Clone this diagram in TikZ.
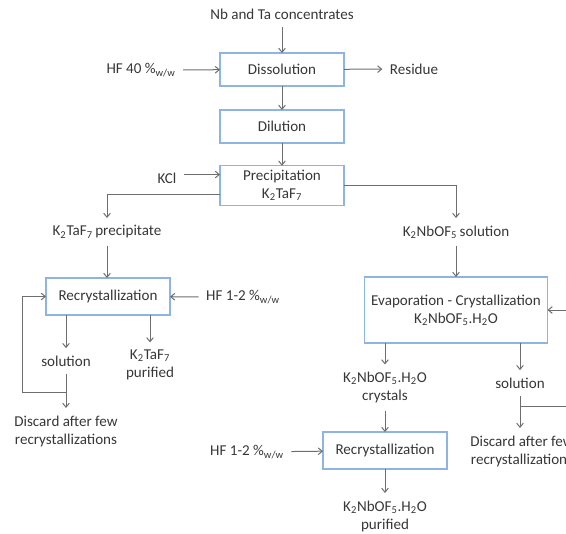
\documentclass[tikz,border=0pt]{standalone}
\usepackage{fontspec}
\setmainfont{Carlito}
\usepackage{xcolor}
\usepackage{tikz}
\usetikzlibrary{shapes.geometric, arrows.meta, positioning}
\definecolor{boxblue}{RGB}{141,180,227}
\definecolor{linegray}{RGB}{110,110,110}
\definecolor{textgray}{RGB}{55,55,55}
\tikzstyle{arrow} = [draw=linegray, line width=0.75pt, -{Straight Barb[length=3pt,width=5pt]}]
\newcommand{\ktaf}{K\textsubscript{2}TaF\textsubscript{7}}
\newcommand{\knbo}{K\textsubscript{2}NbOF\textsubscript{5}}
\newcommand{\ww}{\textsubscript{w/w}}

\begin{document}
\begin{tikzpicture}[x=0.75pt, y=-0.75pt, font=\fontsize{11.3}{13.5}\selectfont, text=textgray]
    \tikzstyle{unit}=[draw=boxblue, line width=1pt, rectangle, minimum width=93pt, minimum height=24.75pt, align=center, outer sep=0pt, fill=white]
    \tikzstyle{tall}=[unit, minimum height=27.75pt]
    \tikzstyle{stream}=[align=center, inner sep=5.5pt]

    \useasboundingbox (0,0) rectangle (566,533);
    \clip (0,0) rectangle (566,533);

    % main line
    \node[stream] (conc) at (282,14) {Nb and Ta concentrates};
    \node[unit] (dissol) at (282,69.5) {Dissolution};
    \node[stream] (hf40) at (141,70) {HF 40 \%\ww};
    \node[stream] (residue) at (414,69) {Residue};
    \node[unit] (dilut) at (282,126.5) {Dilution};
    \node[tall] (precip) at (282,185.5) {Precipitation\\\ktaf};
    \node[stream] (kcl) at (167,178) {KCl};

    % tantalum branch
    \node[stream] (taprec) at (107,232) {\ktaf\,precipitate};
    \node[tall] (recl) at (108,296.5) {Recrystallization};
    \node[stream] (hfa) at (243,297) {HF 1-2 \%\ww};
    \node[stream] (soll) at (66,361) {solution};
    \node[stream] (tapur) at (150,365) {\ktaf\\purified};
    \node[stream] (discl) at (66,431) {Discard after few\\recrystallizations};
    \coordinate (tapl) at (66,392);

    % niobium branch
    \node[stream] (nbsol) at (456,232) {\knbo\,solution};
    \node[unit, minimum width=137.25pt, minimum height=49.5pt] (evap) at (456,310) {Evaporation - Crystallization\\\knbo.H\textsubscript{2}O};
    \node[stream] (nbcry) at (385,387.5) {\knbo.H\textsubscript{2}O\\crystals};
    \node[stream] (solr) at (520,383) {solution};
    \node[stream] (discr) at (522,451) {Discard after few\\recrystallizations};
    \node[tall] (recr) at (385,450.5) {Recrystallization};
    \node[stream] (hfb) at (247,452) {HF 1-2 \%\ww};
    \node[stream] (nbpur) at (385,516) {\knbo.H\textsubscript{2}O\\purified};
    \coordinate (tapr) at (520,406);
    \coordinate (backr) at (570,310);
    \coordinate (outr) at (570,406);

    \draw[arrow] (conc) -- (dissol);
    \draw[arrow] (hf40) -- (dissol);
    \draw[arrow] (dissol) -- (residue);
    \draw[arrow] (dissol) -- (dilut);
    \draw[arrow] (dilut) -- (precip);
    \draw[arrow] (kcl.east |- precip.170) -- (precip.170);
    \draw[arrow] (precip.188) -| (taprec);
    \draw[arrow] (precip.east) -| (nbsol);

    \draw[arrow] (taprec) -- (taprec |- recl.north);
    \draw[arrow] (hfa) -- (recl);
    \draw[arrow] (recl.south -| soll) -- (soll);
    \draw[arrow] (recl.south -| tapur) -- (tapur.north);
    \draw[arrow] (soll) -- (soll |- discl.north);
    \draw[arrow] (tapl) -- ++(-44,0) |- (recl.west);

    \draw[arrow] (nbsol) -- (evap);
    \draw[arrow] (backr) -- (evap.east);
    \draw[arrow] (evap.south -| nbcry) -- (nbcry);
    \draw[arrow] (evap.south -| solr) -- (solr);
    \draw[arrow] (nbcry) -- (recr);
    \draw[arrow] (solr) -- (solr |- discr.north);
    \draw[draw=linegray, line width=0.75pt] (tapr) -- (outr);
    \draw[arrow] (hfb) -- (recr);
    \draw[arrow] (recr) -- (nbpur);
\end{tikzpicture}
\end{document}
